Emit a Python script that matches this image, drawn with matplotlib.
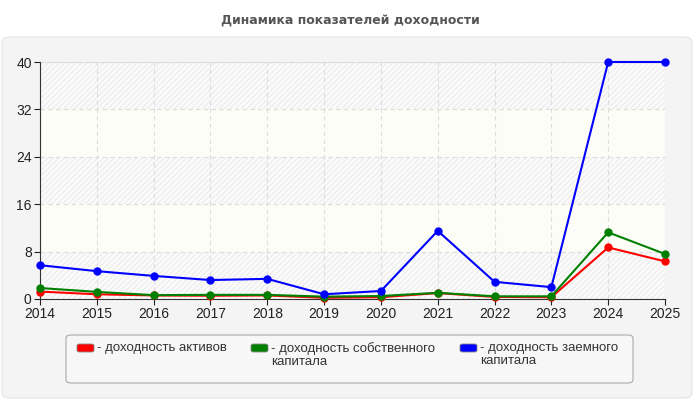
import matplotlib
matplotlib.use('Agg')
import matplotlib.pyplot as plt
from matplotlib.patches import FancyBboxPatch

years = [2014, 2015, 2016, 2017, 2018, 2019, 2020, 2021, 2022, 2023, 2024, 2025]
roa = [1.25, 0.8, 0.6, 0.55, 0.6, 0.2, 0.3, 1.0, 0.35, 0.3, 8.7, 6.35]
roe = [1.85, 1.2, 0.65, 0.7, 0.7, 0.4, 0.5, 1.05, 0.45, 0.45, 11.25, 7.6]
rod = [5.7, 4.7, 3.9, 3.2, 3.4, 0.8, 1.35, 11.5, 2.9, 2.0, 40.0, 40.0]
series_names = ['- доходность активов', '- доходность собственного\nкапитала',
                '- доходность заемного\nкапитала']
colors = ['#ff0000', '#008000', '#0000ff']
title = 'Динамика показателей доходности'

plt.rcParams['font.family'] = ['Liberation Sans', 'DejaVu Sans']

fig = plt.figure(figsize=(7, 4), dpi=100)
fig.patch.set_facecolor('white')

# outer grey panel
panel = FancyBboxPatch((2 / 700, 2 / 400), 690 / 700, 361 / 400,
                       boxstyle='round,pad=0,rounding_size=0.012',
                       transform=fig.transFigure, facecolor='#f4f4f4',
                       edgecolor='#e4e4e4', linewidth=0.8, zorder=0)
fig.patches.append(panel)

fig.text(0.5, 1 - 20 / 400, title, ha='center', va='center', family='DejaVu Sans',
         fontsize=9, fontweight='bold', color='#555555')

ax = fig.add_axes([40 / 700, 1 - 299 / 400, 625 / 700, 237 / 400])
ax.set_zorder(3)
ax.set_facecolor('white')

# striped background bands
for i, lo in enumerate(range(0, 40, 8)):
    if i % 2 == 0:
        ax.axhspan(lo, lo + 8, facecolor='#fbfbfb', edgecolor='#eeeeee',
                   hatch='//////', linewidth=0, zorder=0)
    else:
        ax.axhspan(lo, lo + 8, facecolor='#fdfdf7', linewidth=0, zorder=0)

for vals, c in zip([roa, roe, rod], colors):
    ax.plot(years, vals, color=c, linewidth=1.5, marker='o', markersize=5,
            zorder=3, clip_on=False)

ax.set_xlim(2014, 2025)
ax.set_ylim(0, 40)
ax.set_xticks(years)
ax.set_yticks([0, 8, 16, 24, 32, 40])
ax.grid(True, color='#dddddd', linestyle=(0, (4, 3)), linewidth=0.8)
ax.set_axisbelow(True)
for s in ['top', 'right']:
    ax.spines[s].set_visible(False)
ax.spines['left'].set_color('#333333')
ax.spines['bottom'].set_color('#333333')
ax.tick_params(axis='both', labelsize=10, colors='#222222', length=4,
               width=0.8, direction='out', pad=2)
ax.axhline(40, color='#dddddd', linewidth=0.8, zorder=1)

# legend box
leg = FancyBboxPatch((66 / 700, 1 - 383 / 400), 567 / 700, 48 / 400,
                     boxstyle='round,pad=0,rounding_size=0.008',
                     transform=fig.transFigure, facecolor='#f7f7f7',
                     edgecolor='#aaaaaa', linewidth=0.8, zorder=1)
fig.patches.append(leg)
xs = [77, 251, 460]
for x, name, c in zip(xs, series_names, colors):
    p = FancyBboxPatch((x / 700, 1 - 352 / 400), 17 / 700, 8 / 400,
                       boxstyle='round,pad=0,rounding_size=0.004',
                       transform=fig.transFigure, facecolor=c,
                       edgecolor='#888888', linewidth=0.6, zorder=2)
    fig.patches.append(p)
    fig.text((x + 20) / 700, 1 - 342 / 400, name, ha='left', va='top',
             fontsize=9.5, color='#333333', linespacing=1.1)

fig.savefig('out.png', dpi=100)
